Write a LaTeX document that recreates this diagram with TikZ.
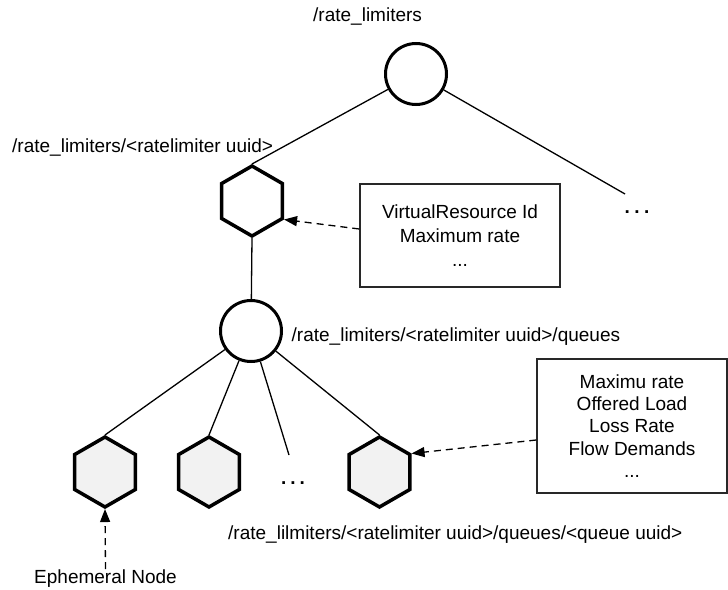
\documentclass[tikz,border=0pt]{standalone}
\usepackage{fontspec}
\setmainfont{Liberation Sans}
\usetikzlibrary{shapes.geometric,arrows.meta}
\definecolor{hexgray}{RGB}{242,242,242}
\definecolor{boxgray}{RGB}{40,40,40}
\begin{document}
\begin{tikzpicture}[x=1pt,y=-1pt,
  every node/.style={font=\fontsize{19}{22.3}\selectfont},
  ring/.style={circle,draw,line width=3pt,minimum size=61pt,inner sep=0pt},
  hexnode/.style={regular polygon,regular polygon sides=6,regular polygon rotate=30,
    draw,line width=3.5pt,minimum size=70pt,inner sep=0pt,fill=white},
  leafhex/.style={hexnode,fill=hexgray},
  branch/.style={line width=1.3pt},
  infobox/.style={draw=boxgray,line width=1.5pt,align=center,inner sep=0pt},
  pointer/.style={line width=1.3pt,dash pattern=on 7pt off 5pt,
    -{Triangle[length=13pt,width=10pt]}},
  pathlabel/.style={anchor=base west,inner sep=0pt},
  more/.style={anchor=base,inner sep=0pt,font=\fontsize{19}{22}\selectfont\bfseries}
]
\useasboundingbox (0,0) rectangle (728,589);

% root znode
\node[ring] (root) at (416,74) {};
\node[pathlabel] (rootlbl) at (313,21) {/rate\_limiters};

% one rate limiter
\node[hexnode] (rl) at (252,201) {};
\node[pathlabel] (rllbl) at (12,152) {/rate\_limiters/<ratelimiter uuid>};
\coordinate (rootend) at (625,194);
\node[more] (moretop) at (637,213) {.\hspace{4.5pt}.\hspace{4.5pt}.};
\node[infobox,minimum width=200pt,minimum height=103pt,
  font=\fontsize{19}{24}\selectfont] (rlinfo) at (460,235.5)
  {VirtualResource Id\\Maximum rate\\...};

% queues of the rate limiter
\node[ring] (queues) at (251,331) {};
\node[pathlabel] (qlbl) at (291.5,341) {/rate\_limiters/<ratelimiter uuid>/queues};
\node[leafhex] (q1) at (105,472) {};
\node[leafhex] (q2) at (209,472) {};
\coordinate (qend) at (289,455);
\node[more] (moreq) at (293,484) {.\hspace{4pt}.\hspace{4pt}.};
\node[leafhex] (q3) at (379.5,472) {};
\node[infobox,minimum width=190pt,minimum height=134pt] (qinfo) at (632,426)
  {Maximu rate\\Offered Load\\Loss Rate\\Flow Demands\\...};
\node[pathlabel] (qleaflbl) at (228,539)
  {/rate\_lilmiters/<ratelimiter uuid>/queues/<queue uuid>};
\node[anchor=base,inner sep=0pt] (eph) at (105.5,583) {Ephemeral Node};

% tree edges
\draw[branch] (root) -- (rl.90);
\draw[branch] (root) -- (rootend);
\draw[branch] (rl.-90) -- (queues);
\draw[branch] (queues) -- (q1.90);
\draw[branch] (queues) -- (q2.90);
\draw[branch] (queues) -- (qend);
\draw[branch] (queues) -- (q3.90);

% data pointers
\draw[pointer] ([yshift=6.5pt]rlinfo.west) -- (rl.-30);
\draw[pointer] ([yshift=-14pt]qinfo.west) -- (q3.30);
\draw[pointer] (eph.north) -- (q1.-90);
\end{tikzpicture}
\end{document}
